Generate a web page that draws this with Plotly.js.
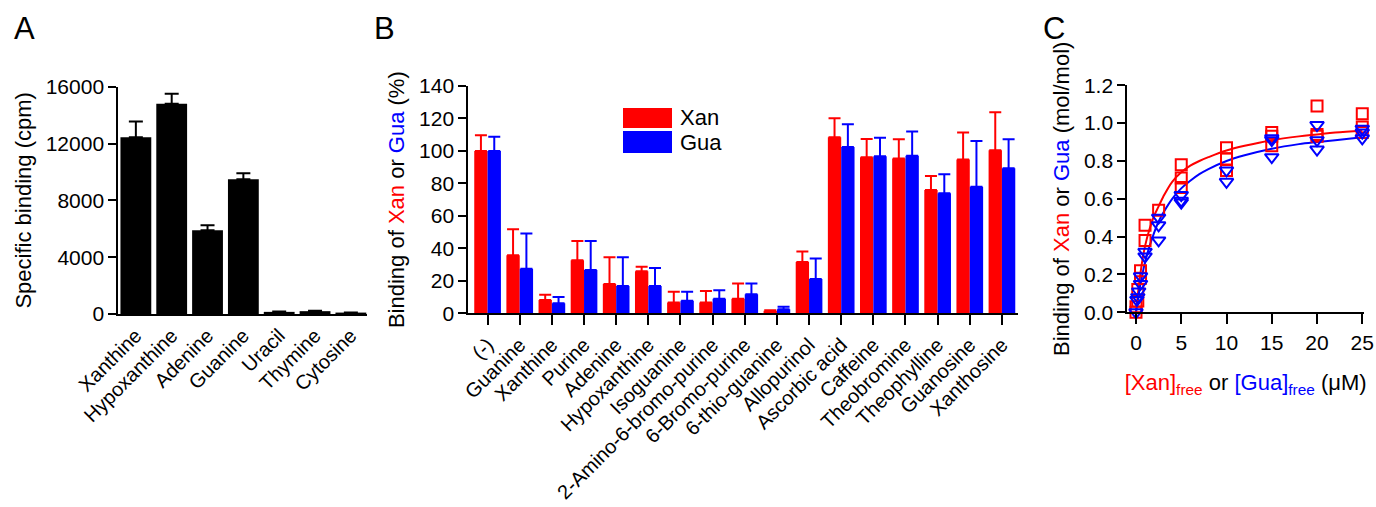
<!DOCTYPE html>
<html>
<head>
<meta charset="utf-8">
<script src="https://cdn.plot.ly/plotly-3.0.1.min.js"></script>
<style>
html,body{margin:0;padding:0;background:#fff;}
#chart{width:1376px;height:507px;}
</style>
</head>
<body>
<div id="chart"></div>
<script>
// ---------- Panel A ----------
var aCategories = ["Xanthine","Hypoxanthine","Adenine","Guanine","Uracil","Thymine","Cytosine"];
var aValues = [12450, 14800, 5900, 9480, 150, 200, 100];
var aErrTop = [13550, 15500, 6250, 9900, 170, 220, 110];

// ---------- Panel B ----------
var bCategories = ["(-)","Guanine","Xanthine","Purine","Adenine","Hypoxanthine","Isoguanine",
  "2-Amino-6-bromo-purine","6-Bromo-purine","6-thio-guanine","Allopurinol","Ascorbic acid",
  "Caffeine","Theobromine","Theophylline","Guanosine","Xanthosine"];
var bXan = [100, 35.7, 8.2, 32.6, 18.1, 25.9, 6.6, 6.6, 9.0, 1.6, 31.6, 108.4, 96.1, 95.3, 76.0, 94.8, 100.4];
var bXanTop = [109.6, 51.7, 11.5, 44.5, 34.5, 28.7, 13.3, 13.8, 18.3, 1.9, 38.0, 120.1, 107.4, 107.2, 84.6, 111.3, 123.8];
var bGua = [100, 27.5, 6.2, 26.7, 16.8, 16.8, 7.8, 9.0, 11.7, 2.5, 21.1, 102.4, 96.7, 97.1, 73.9, 78.0, 89.3];
var bGuaTop = [108.8, 49.1, 10.1, 44.5, 34.5, 27.9, 13.3, 14.2, 18.3, 4.1, 33.7, 116.4, 108.2, 111.9, 85.6, 106.1, 107.2];

// ---------- Panel C ----------
var cXanX = [0, 0, 0.2, 0.2, 0.5, 0.5, 1.0, 1.0, 2.5, 5, 5, 5, 10, 10, 10, 15, 15, 15, 20, 20, 20, 25, 25, 25];
var cXanY = [0.0, 0.03, 0.06, 0.12, 0.18, 0.22, 0.38, 0.46, 0.54, 0.66, 0.71, 0.78, 0.75, 0.81, 0.87, 0.88, 0.93, 0.95, 0.93, 0.94, 1.09, 0.95, 0.98, 1.05];
var cGuaX = [0, 0.1, 0.2, 0.3, 0.5, 0.5, 1.0, 1.0, 2.5, 2.5, 2.5, 5, 5, 5, 10, 10, 15, 15, 15, 20, 20, 20, 25, 25, 25];
var cGuaY = [0.0, 0.065, 0.08, 0.11, 0.15, 0.19, 0.295, 0.32, 0.38, 0.46, 0.5, 0.58, 0.59, 0.62, 0.69, 0.75, 0.82, 0.91, 0.92, 0.86, 0.91, 0.99, 0.92, 0.95, 0.97];
var cFitX = [0, 0.5, 1, 1.5, 2, 2.5, 3, 4, 5, 6, 7, 8, 10, 12, 15, 18, 20, 22, 25];
var cXanFit = [0, 0.21, 0.35, 0.44, 0.51, 0.56, 0.61, 0.69, 0.74, 0.775, 0.80, 0.82, 0.855, 0.88, 0.91, 0.93, 0.94, 0.95, 0.96];
var cGuaFit = [0, 0.15, 0.265, 0.35, 0.42, 0.48, 0.525, 0.60, 0.655, 0.695, 0.73, 0.757, 0.80, 0.83, 0.865, 0.889, 0.90, 0.91, 0.925];

function diff(top, v){ return top.map(function(t,i){ return Math.max(t - v[i], 0); }); }
function zeros(n){ var z=[]; for(var i=0;i<n;i++) z.push(0); return z; }

var RED = "#ff0000", BLUE = "#0000ff";
var FONT = "Liberation Sans, Arial, sans-serif";
var FS = 21;   // numeric tick labels
var FC = 20;   // category labels
var FT = 22;   // titles

var traces = [
  {type:"bar", x:aCategories, y:aValues, xaxis:"x", yaxis:"y", width:0.86,
   marker:{color:"#000", line:{width:0}}, showlegend:false,
   error_y:{type:"data", symmetric:false, array:diff(aErrTop,aValues), arrayminus:zeros(7),
     color:"#000", thickness:2, width:7}},
  {type:"bar", name:"Xan", x:bCategories, y:bXan, xaxis:"x2", yaxis:"y2", offsetgroup:"xan",
   marker:{color:RED, line:{width:0}}, showlegend:false,
   error_y:{type:"data", symmetric:false, array:diff(bXanTop,bXan), arrayminus:zeros(17),
     color:RED, thickness:2, width:6}},
  {type:"bar", name:"Gua", x:bCategories, y:bGua, xaxis:"x2", yaxis:"y2", offsetgroup:"gua",
   marker:{color:BLUE, line:{width:0}}, showlegend:false,
   error_y:{type:"data", symmetric:false, array:diff(bGuaTop,bGua), arrayminus:zeros(17),
     color:BLUE, thickness:2, width:6}},
  {type:"scatter", mode:"lines", x:cFitX, y:cXanFit, xaxis:"x3", yaxis:"y3",
   line:{color:RED, width:2, shape:"spline"}, showlegend:false, cliponaxis:false},
  {type:"scatter", mode:"lines", x:cFitX, y:cGuaFit, xaxis:"x3", yaxis:"y3",
   line:{color:BLUE, width:2, shape:"spline"}, showlegend:false, cliponaxis:false},
  {type:"scatter", mode:"markers", x:cXanX, y:cXanY, xaxis:"x3", yaxis:"y3",
   marker:{symbol:"square-open", size:11, color:RED, line:{width:2, color:RED}}, showlegend:false, cliponaxis:false},
  {type:"scatter", mode:"markers", x:cGuaX, y:cGuaY, xaxis:"x3", yaxis:"y3",
   marker:{symbol:"triangle-down-open", size:12, color:BLUE, line:{width:2, color:BLUE}}, showlegend:false, cliponaxis:false}
];

function W(px){ return px/1376; }
function H(py){ return 1 - py/507; }

var axBase = {showgrid:false, zeroline:false, showline:true, linecolor:"#000", linewidth:2,
  tickcolor:"#000", tickwidth:2, ticklen:8, ticks:"outside",
  tickfont:{family:FONT, size:FS, color:"#000"}, automargin:false};

function ax(extra){ var o = JSON.parse(JSON.stringify(axBase)); for (var k in extra) o[k]=extra[k]; return o; }

var layout = {
  width:1376, height:507,
  margin:{l:0, r:0, t:0, b:0},
  paper_bgcolor:"#fff", plot_bgcolor:"rgba(0,0,0,0)",
  font:{family:FONT, size:FS, color:"#000"},
  separators:".,",
  barmode:"group", bargap:0.17, bargroupgap:0,
  showlegend:false,
  xaxis: ax({domain:[W(118.3), W(367)], anchor:"y", type:"category", range:[-0.49, 6.45],
    ticks:"", tickangle:-45, tickfont:{family:FONT, size:FC, color:"#000"}}),
  yaxis: ax({domain:[H(314), H(86.7)], anchor:"x", range:[0,16000], tickvals:[0,4000,8000,12000,16000],
    tickformat:"d",
    title:{text:"Specific binding (cpm)", font:{family:FONT, size:FT}, standoff:8}}),
  xaxis2: ax({domain:[W(468.3), W(1018)], anchor:"y2", type:"category", range:[-0.6, 16.5],
    ticklen:10, tickangle:-45, tickfont:{family:FONT, size:FC, color:"#000"}}),
  yaxis2: ax({domain:[H(313.3), H(86)], anchor:"x2", range:[0,140], dtick:20,
    title:{text:"Binding of <span style='color:#ff0000'>Xan</span> or <span style='color:#0000ff'>Gua</span> (%)", font:{family:FONT, size:FT}, standoff:8}}),
  xaxis3: ax({domain:[W(1127.3), W(1364)], anchor:"y3", range:[-0.96, 25.19], tickvals:[0,5,10,15,20,25],
    ticklen:10,
    title:{text:"<span style='color:#ff0000'>[Xan]<sub>free</sub></span> or <span style='color:#0000ff'>[Gua]<sub>free</sub></span> (μM)", font:{family:FONT, size:FT}, standoff:22}}),
  yaxis3: ax({domain:[H(312.3), H(85.3)], anchor:"x3", range:[0,1.2], tickvals:[0,0.2,0.4,0.6,0.8,1.0,1.2],
    tickformat:".1f",
    title:{text:"Binding of <span style='color:#ff0000'>Xan</span> or <span style='color:#0000ff'>Gua</span> (mol/mol)", font:{family:FONT, size:FT}, standoff:8}}),
  shapes:[
    {type:"rect", xref:"paper", yref:"paper", x0:W(623), x1:W(672), y0:H(128), y1:H(108), fillcolor:RED, line:{width:0}},
    {type:"rect", xref:"paper", yref:"paper", x0:W(623), x1:W(672), y0:H(153), y1:H(131), fillcolor:BLUE, line:{width:0}}
  ],
  annotations:[
    {text:"Xan", xref:"paper", yref:"paper", x:W(678), y:H(118), xanchor:"left", yanchor:"middle", showarrow:false, font:{family:FONT, size:FT}},
    {text:"Gua", xref:"paper", yref:"paper", x:W(678), y:H(142), xanchor:"left", yanchor:"middle", showarrow:false, font:{family:FONT, size:FT}},
    {text:"A", xref:"paper", yref:"paper", x:W(12), y:H(28.5), xanchor:"left", yanchor:"middle", showarrow:false, font:{family:FONT, size:31}},
    {text:"B", xref:"paper", yref:"paper", x:W(372), y:H(28.5), xanchor:"left", yanchor:"middle", showarrow:false, font:{family:FONT, size:31}},
    {text:"C", xref:"paper", yref:"paper", x:W(1041), y:H(28.5), xanchor:"left", yanchor:"middle", showarrow:false, font:{family:FONT, size:31}}
  ]
};

Plotly.newPlot("chart", traces, layout, {staticPlot:true, displayModeBar:false});
</script>
</body>
</html>
